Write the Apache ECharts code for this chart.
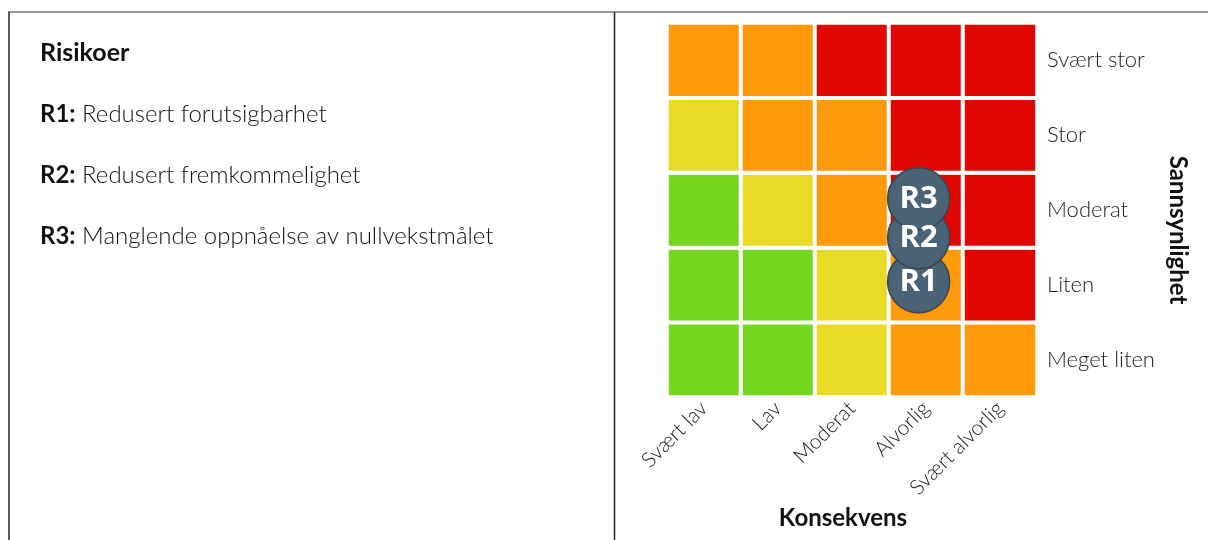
<!DOCTYPE html>
<html>
<head>
<meta charset="utf-8">
<script src="https://cdn.jsdelivr.net/npm/echarts@6/dist/echarts.min.js"></script>
<style>
html,body{margin:0;padding:0;background:#fff;}
#chart{width:1208px;height:540px;}
</style>
</head>
<body>
<div id="chart"></div>
<script>
// Categories
const consequences = ['Svært lav', 'Lav', 'Moderat', 'Alvorlig', 'Svært alvorlig'];
const likelihoods = ['Meget liten', 'Liten', 'Moderat', 'Stor', 'Svært stor'];
// Risk level per cell: rows from bottom (Meget liten) to top (Svært stor), columns by consequence
// 1 = green, 2 = yellow, 3 = orange, 4 = red
const levelMeget = [1, 1, 2, 3, 3];
const levelLiten = [1, 1, 2, 3, 4];
const levelModerat = [1, 2, 3, 4, 4];
const levelStor = [2, 3, 3, 4, 4];
const levelSvaertStor = [3, 3, 4, 4, 4];
const levelColors = ['#73d71d', '#e9db25', '#ff9a0a', '#e10600'];
// Risks: name, consequence position, likelihood position (continuous, 0..5)
const riskNames = ['R1', 'R2', 'R3'];
const riskX = [3.4, 3.4, 3.4];
const riskY = [1.54, 2.13, 2.65];
const riskTexts = ['Redusert forutsigbarhet', 'Redusert fremkommelighet', 'Manglende oppnåelse av nullvekstmålet'];

const rows = [levelMeget, levelLiten, levelModerat, levelStor, levelSvaertStor];
const heatData = [];
rows.forEach((row, yi) => row.forEach((lvl, xi) => heatData.push([xi, yi, lvl])));
const scatterData = riskNames.map((n, i) => ({ name: n, value: [riskX[i], riskY[i]] }));

const FONT = 'Lato, "Open Sans", sans-serif';
const chart = echarts.init(document.getElementById('chart'), null, { renderer: 'canvas' });

const titles = [{
  text: 'Risikoer', left: 35, top: 35,
  textStyle: { fontFamily: FONT, fontSize: 25, fontWeight: 'bold', color: '#111' }
}];
riskNames.forEach((n, i) => {
  titles.push({
    text: '{b|' + n + ':}{r| ' + riskTexts[i] + '}',
    left: 35, top: 97 + i * 61,
    textStyle: {
      rich: {
        b: { fontFamily: FONT, fontSize: 24, fontWeight: 'bold', color: '#111' },
        r: { fontFamily: FONT, fontSize: 24, fontWeight: 300, color: '#111' }
      }
    }
  });
});

const gridPos = { left: 667, top: 23, width: 370, height: 374 };

chart.setOption({
  animation: false,
  title: titles,
  graphic: [
    { type: 'line', shape: { x1: 8, y1: 12, x2: 1208, y2: 12 }, style: { stroke: '#777', lineWidth: 1.5 } },
    { type: 'line', shape: { x1: 9, y1: 12, x2: 9, y2: 540 }, style: { stroke: '#222', lineWidth: 1.5 } },
    { type: 'line', shape: { x1: 614.5, y1: 12, x2: 614.5, y2: 540 }, style: { stroke: '#222', lineWidth: 1.5 } },
    {
      type: 'text', x: 1178, y: 230, rotation: -Math.PI / 2,
      style: { text: 'Sannsynlighet', fontFamily: FONT, fontSize: 24, fontWeight: 'bold', fill: '#111', align: 'center', verticalAlign: 'middle' }
    }
  ],
  grid: [
    Object.assign({}, gridPos),
    Object.assign({}, gridPos)
  ],
  xAxis: [{
    type: 'category', gridIndex: 0, data: consequences, position: 'bottom',
    axisLine: { show: false }, axisTick: { show: false }, splitLine: { show: false },
    axisLabel: { rotate: 45, margin: 8, fontFamily: FONT, fontSize: 21, fontWeight: 300, color: '#222', interval: 0 },
    name: 'Konsekvens', nameLocation: 'middle', nameGap: 106,
    nameTextStyle: { fontFamily: FONT, fontSize: 24, fontWeight: 'bold', color: '#111', padding: [0, 18, 0, 0] }
  }, {
    type: 'value', gridIndex: 1, min: 0, max: 5, show: false
  }],
  yAxis: [{
    type: 'category', gridIndex: 0, data: likelihoods, position: 'right',
    axisLine: { show: false }, axisTick: { show: false }, splitLine: { show: false },
    axisLabel: { margin: 10, fontFamily: FONT, fontSize: 22, fontWeight: 300, color: '#222' }
  }, {
    type: 'value', gridIndex: 1, min: 0, max: 5, show: false
  }],
  visualMap: {
    type: 'piecewise', show: false, dimension: 2, seriesIndex: 0,
    pieces: levelColors.map((c, i) => ({ value: i + 1, color: c }))
  },
  series: [{
    type: 'heatmap', xAxisIndex: 0, yAxisIndex: 0, data: heatData,
    itemStyle: { borderColor: '#fff', borderWidth: 4 },
    emphasis: { disabled: true }
  }, {
    type: 'scatter', xAxisIndex: 1, yAxisIndex: 1, data: scatterData,
    symbol: 'circle', symbolSize: 62, z: 5,
    itemStyle: { color: '#4b6377', borderColor: '#3b444c', borderWidth: 1.5, opacity: 1 },
    label: {
      show: true, position: 'inside', formatter: '{b}',
      fontFamily: '"Open Sans", Lato, sans-serif', fontSize: 31, fontWeight: 'bold', color: '#fff'
    },
    emphasis: { disabled: true }
  }]
});
</script>
</body>
</html>
